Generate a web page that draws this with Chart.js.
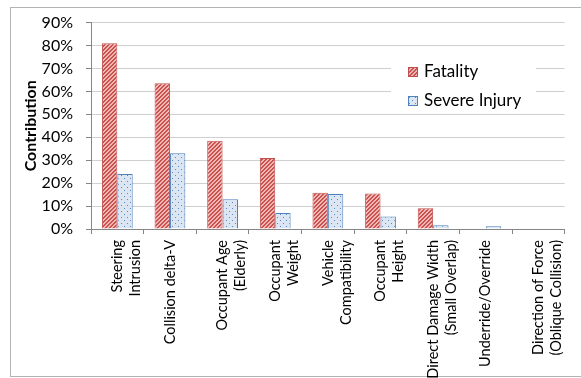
<!DOCTYPE html>
<html>
<head>
<meta charset="utf-8">
<script src="https://cdn.jsdelivr.net/npm/chart.js@4.4.1/dist/chart.umd.min.js"></script>
<style>
  html, body { margin: 0; padding: 0; background: #fff; overflow: hidden; }
  #wrap { position: relative; width: 581px; height: 378px; }
</style>
</head>
<body>
<div id="wrap"><canvas id="chart" width="581" height="378"></canvas></div>
<script>
// Contributing factors and their share of fatal / severe outcomes (percent)
const categories = [
  ['Steering', 'Intrusion'],
  'Collision delta-V',
  ['Occupant Age', '(Elderly)'],
  ['Occupant', 'Weight'],
  ['Vehicle', 'Compatibility'],
  ['Occupant', 'Height'],
  ['Direct Damage Width', '(Small Overlap)'],
  'Underride/Override',
  ['Direction of Force', '(Oblique Collision)']
];
const fatality = [81, 63.5, 38.5, 31, 15.8, 15.5, 9, 0, 0];
const severeInjury = [24, 33, 13, 7, 15.3, 5.4, 1.6, 1.2, 0];
const seriesNames = ['Fatality', 'Severe Injury'];
const yTicks = [0, 10, 20, 30, 40, 50, 60, 70, 80, 90];

// Hatched fills built pixel by pixel
function stripePattern(dark, light) {
  const c = document.createElement('canvas');
  c.width = 4; c.height = 4;
  const g = c.getContext('2d');
  for (let y = 0; y < 4; y++) {
    for (let x = 0; x < 4; x++) {
      g.fillStyle = ((x + y) % 4 < 2) ? dark : light;
      g.fillRect(x, y, 1, 1);
    }
  }
  return g.createPattern(c, 'repeat');
}
function dotPattern(dot, bg) {
  const c = document.createElement('canvas');
  c.width = 6; c.height = 6;
  const g = c.getContext('2d');
  g.fillStyle = bg;
  g.fillRect(0, 0, 6, 6);
  g.fillStyle = dot;
  g.fillRect(1, 1, 1, 1);
  g.fillRect(4, 4, 1, 1);
  return g.createPattern(c, 'repeat');
}
const redFill = stripePattern('#c9514e', '#f1b7b5');
const blueFill = dotPattern('#5a8ac6', '#dce6f2');

const FONT = 'Lato, "Liberation Sans", sans-serif';

// Outer frame of the chart area
const framePlugin = {
  id: 'frame',
  beforeDraw(chart) {
    const ctx = chart.ctx;
    ctx.save();
    ctx.strokeStyle = '#b3b3b3';
    ctx.lineWidth = 1;
    ctx.strokeRect(10.5, 7.5, 700, 369);
    ctx.restore();
  }
};

// Legend box drawn inside the plot area
const insideLegend = {
  id: 'insideLegend',
  afterDraw(chart) {
    const ctx = chart.ctx;
    ctx.save();
    ctx.fillStyle = '#fff';
    ctx.fillRect(391, 64, 145, 50);
    const rows = [{ y: 72 }, { y: 101 }];
    chart.data.datasets.forEach((ds, i) => {
      const y = rows[i].y;
      ctx.fillStyle = ds.backgroundColor;
      ctx.fillRect(408, y - 5, 10, 10);
      ctx.strokeStyle = ds.borderColor;
      ctx.lineWidth = 1;
      ctx.strokeRect(408.5, y - 4.5, 9, 9);
      ctx.fillStyle = '#000';
      ctx.font = '17px ' + FONT;
      ctx.textBaseline = 'middle';
      ctx.textAlign = 'left';
      ctx.fillText(ds.label, 424, y);
    });
    ctx.restore();
  }
};

new Chart(document.getElementById('chart'), {
  type: 'bar',
  data: {
    labels: categories,
    datasets: [
      {
        label: seriesNames[0],
        data: fatality,
        backgroundColor: redFill,
        borderColor: '#c0504d',
        borderWidth: 1
      },
      {
        label: seriesNames[1],
        data: severeInjury,
        backgroundColor: blueFill,
        borderColor: '#4f81bd',
        borderWidth: 1
      }
    ]
  },
  options: {
    responsive: false,
    animation: false,
    devicePixelRatio: 1,
    layout: { padding: { top: 19, right: 11, left: 0, bottom: 0 } },
    datasets: { bar: { categoryPercentage: 0.585, barPercentage: 1 } },
    plugins: {
      legend: { display: false },
      tooltip: { enabled: false }
    },
    scales: {
      x: {
        offset: true,
        grid: {
          display: true,
          offset: true,
          drawOnChartArea: false,
          drawTicks: true,
          tickLength: 5,
          tickColor: '#868686'
        },
        border: { color: '#868686', width: 1 },
        ticks: {
          autoSkip: false,
          maxRotation: 90,
          minRotation: 90,
          padding: 6,
          color: '#000',
          font: { family: FONT, size: 14.5, lineHeight: 1.24 }
        },
        afterFit(scale) { scale.height = 149; }
      },
      y: {
        min: 0,
        max: 90,
        afterBuildTicks(scale) { scale.ticks = yTicks.map(v => ({ value: v })); },
        grid: {
          color: '#cfcfcf',
          tickColor: '#868686',
          tickLength: 5
        },
        border: { color: '#868686', width: 1 },
        ticks: {
          padding: 13,
          color: '#000',
          font: { family: FONT, size: 16 },
          callback: v => v + '%'
        },
        title: {
          display: true,
          text: 'Contribution',
          color: '#000',
          font: { family: FONT, size: 16, weight: 'bold' },
          padding: { top: 21, bottom: 0 }
        },
        afterFit(scale) { scale.width = 91; }
      }
    }
  },
  plugins: [framePlugin, insideLegend]
});
</script>
</body>
</html>
